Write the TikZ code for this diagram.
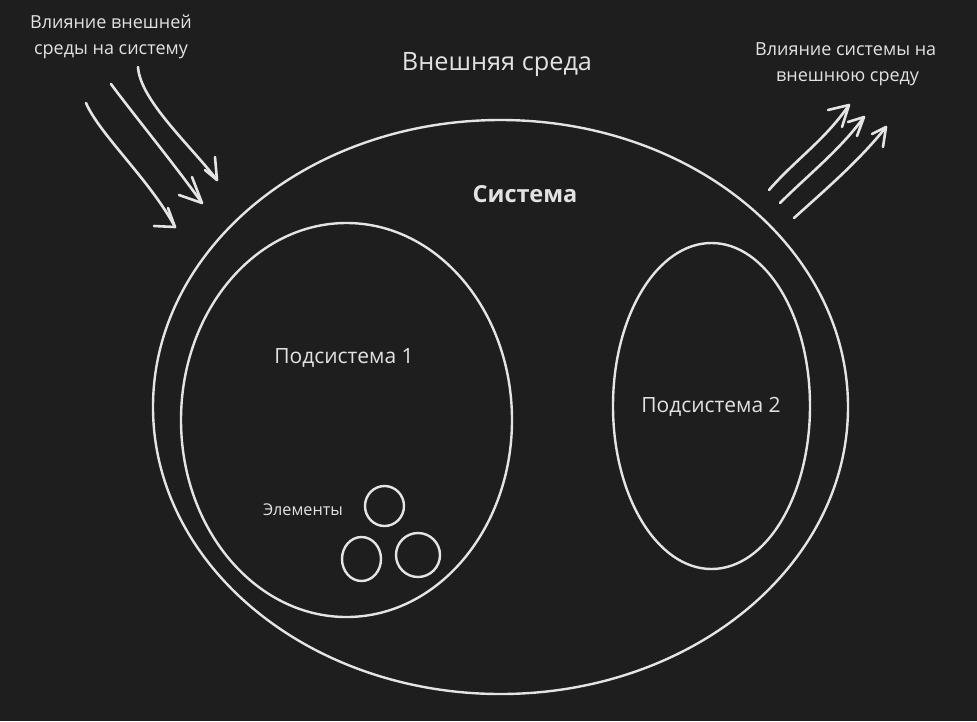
\documentclass[tikz,border=0pt]{standalone}
\usepackage{fontspec}
\setmainfont{Open Sans}
\usetikzlibrary{shapes.geometric}
\definecolor{bg}{HTML}{1E1E1E}
\definecolor{ln}{HTML}{E4E4E4}
\definecolor{tx}{HTML}{E2E2E2}
\tikzset{
  oval/.style={draw=ln, line width=2.4pt, ellipse, inner sep=0pt},
  lbl/.style={text=tx, inner sep=0pt, align=center},
  hand/.style={draw=ln, line width=2.6pt, line cap=round, line join=round},
}
\begin{document}
\begin{tikzpicture}[x=1pt,y=-1pt]
\fill[bg] (0,0) rectangle (977,721);
\useasboundingbox (0,0) rectangle (977,721);

% ellipses
\node[oval, minimum width=695pt, minimum height=574pt] (sys) at (500.5,407) {};
\node[oval, minimum width=331pt, minimum height=394pt] (sub1) at (346.5,420) {};
\node[oval, minimum width=197pt, minimum height=326pt] (sub2) at (711.5,406) {};
\node[oval, minimum width=39pt, minimum height=40pt] (e1) at (384.5,506) {};
\node[oval, minimum width=39pt, minimum height=44pt] (e2) at (361.5,559) {};
\node[oval, minimum width=44pt, minimum height=44pt] (e3) at (418,555) {};

% texts
\node[lbl, font=\fontsize{18}{26}\selectfont] (tin) at (111,37) {Влияние внешней\\среды на систему};
\node[lbl, anchor=base west, font=\fontsize{18}{26}\selectfont] (tout1) at (755,55) {Влияние системы на};
\node[lbl, anchor=base west, font=\fontsize{18}{26}\selectfont] (tout2) at (776,81) {внешнюю среду};
\node[lbl, font=\fontsize{25.3}{28}\selectfont] (env) at (497,65) {Внешняя среда};
\node[lbl, font=\fontsize{23.5}{26}\selectfont\bfseries] (tsys) at (525,194) {Система};
\node[lbl, font=\fontsize{21}{24}\selectfont] (t1) at (344,358) {Подсистема 1};
\node[lbl, font=\fontsize{21}{24}\selectfont] (t2) at (711,407) {Подсистема 2};
\node[lbl, font=\fontsize{16.2}{20}\selectfont] (tel) at (303,510) {Элементы};

% incoming hand-drawn arrows
\coordinate (a1s) at (86,103);  \coordinate (a1t) at (175,227);
\coordinate (a2s) at (111,84);  \coordinate (a2t) at (202,203);
\coordinate (a3s) at (138,67);  \coordinate (a3t) at (217,180);
\draw[hand] (a1s) .. controls (100,135) and (150,180) .. (a1t);
\draw[hand] (154,226) -- (a1t) -- (168,208);
\draw[hand] (a2s) .. controls (130,110) and (175,165) .. (a2t);
\draw[hand] (179,195) -- (a2t) -- (192,177);
\draw[hand] (a3s) .. controls (140,100) and (190,145) .. (a3t);
\draw[hand] (205,170) -- (a3t) -- (215,157);

% outgoing hand-drawn arrows
\coordinate (b1s) at (769,190); \coordinate (b1t) at (849,105);
\coordinate (b2s) at (780,203); \coordinate (b2t) at (864,117);
\coordinate (b3s) at (794,218); \coordinate (b3t) at (886,127);
\draw[hand] (b1s) .. controls (795,160) and (825,140) .. (b1t);
\draw[hand] (828,110) -- (b1t) -- (842,127);
\draw[hand] (b2s) .. controls (808,175) and (840,150) .. (b2t);
\draw[hand] (848,122) -- (b2t) -- (857,136);
\draw[hand] (b3s) .. controls (825,190) and (860,160) .. (b3t);
\draw[hand] (872,134) -- (b3t) -- (883,147);
\end{tikzpicture}
\end{document}
